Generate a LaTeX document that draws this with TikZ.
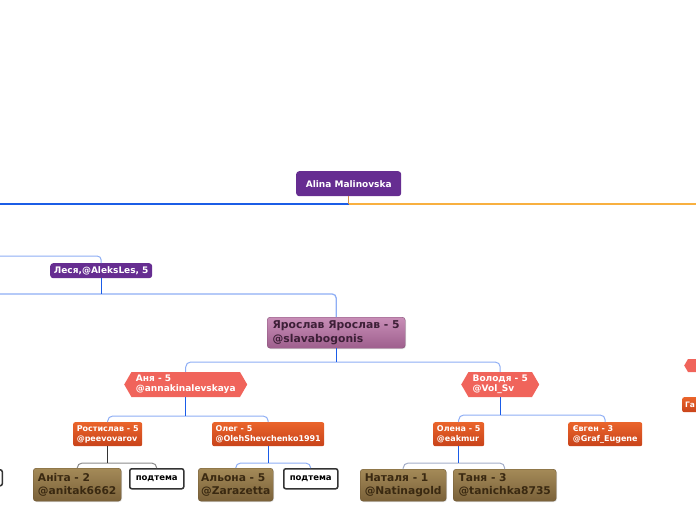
\documentclass[tikz,border=0pt]{standalone}
\usepackage{fontspec}
\setmainfont{DejaVu Sans}
\usetikzlibrary{shapes.symbols,shadows}
\definecolor{purp}{HTML}{662D91}
\definecolor{mauveT}{HTML}{C88EB7}
\definecolor{mauveB}{HTML}{9E5F8D}
\definecolor{mauveText}{HTML}{3D1F37}
\definecolor{coral}{HTML}{F0645B}
\definecolor{orT}{HTML}{EA642B}
\definecolor{orB}{HTML}{C8431A}
\definecolor{brT}{HTML}{A48A58}
\definecolor{brB}{HTML}{7A6139}
\definecolor{brText}{HTML}{3A2911}
\definecolor{lblue}{HTML}{8EAEF5}
\definecolor{dblue}{HTML}{1A5CE8}
\definecolor{topblue}{HTML}{1B5DE6}
\definecolor{toporange}{HTML}{F8B040}
\definecolor{stemorange}{HTML}{D4904A}
\definecolor{grayl}{HTML}{8A8A8A}
\definecolor{grayd}{HTML}{333333}
\definecolor{graybl}{HTML}{A3ADC8}
\begin{document}
\begin{tikzpicture}[x=1pt,y=-1pt,
  purplebox/.style={fill=purp, rounded corners=3pt, text=white, inner sep=0pt,
    font=\bfseries\fontsize{9}{10}\selectfont, align=center, anchor=north west},
  mauvebox/.style={top color=mauveT, bottom color=mauveB, draw=mauveB!85!black, line width=0.4pt,
    rounded corners=3pt, text=mauveText, inner sep=0pt,
    font=\bfseries\fontsize{10.8}{14}\selectfont, align=left, anchor=north west,
    drop shadow={shadow xshift=0.8pt, shadow yshift=-0.8pt, opacity=0.25}},
  hexbox/.style={shape=signal, signal to=west and east, signal pointer angle=120,
    fill=coral, text=white, inner sep=0pt,
    font=\bfseries\fontsize{9}{10}\selectfont, align=left, anchor=west},
  orbox/.style={top color=orT, bottom color=orB, rounded corners=2pt, text=white,
    inner sep=0pt, font=\bfseries\fontsize{8}{10}\selectfont,
    align=left, anchor=north west},
  brbox/.style={top color=brT, bottom color=brB, draw=brB!90!black, line width=0.4pt,
    rounded corners=3pt, text=brText, inner sep=0pt,
    font=\bfseries\fontsize{10.7}{13}\selectfont, align=left, anchor=north west,
    drop shadow={shadow xshift=0.8pt, shadow yshift=-0.8pt, opacity=0.25}},
  subbox/.style={fill=white, draw=grayd, line width=1.5pt, rounded corners=2pt,
    inner sep=0pt, font=\bfseries\fontsize{8.5}{10}\selectfont, text=black,
    minimum width=54pt, minimum height=20pt, anchor=north west},
  conn/.style={line width=1pt},
]
\useasboundingbox (0,0) rectangle (696,520);

% nodes
\node[purplebox, minimum width=105pt, minimum height=25pt] (alina) at (296,171) {Alina Malinovska};
\node[purplebox, minimum width=102pt, minimum height=15pt] (lesya) at (50,263) {Леся,@AleksLes, 5};
\node[mauvebox, minimum width=138pt, minimum height=31pt] (yar) at (267,317) {Ярослав Ярослав - 5\\@slavabogonis};
\node[hexbox, minimum width=123pt, minimum height=25pt] (anya) at (124,384.5) {Аня - 5\\@annakinalevskaya};
\node[hexbox, minimum width=78pt, minimum height=25pt] (vol) at (461,384.5) {Володя - 5\\@Vol\_Sv};
\node[orbox, minimum width=69pt, minimum height=24pt] (rost) at (73,422) {Ростислав - 5\\@peevovarov};
\node[orbox, minimum width=112pt, minimum height=24pt] (oleg) at (212,422) {Олег - 5\\@OlehShevchenko1991};
\node[orbox, minimum width=51pt, minimum height=24pt] (olena) at (433,422) {Олена - 5\\@eakmur};
\node[orbox, minimum width=74pt, minimum height=24pt] (evgen) at (568,422) {Євген - 3\\@Graf\_Eugene};
\node[brbox, minimum width=88pt, minimum height=33pt] (anita) at (33,468) {Аніта - 2\\@anitak6662};
\node[subbox] (pt1) at (129,468) {подтема};
\node[brbox, minimum width=75pt, minimum height=33pt] (alona) at (198,468) {Альона - 5\\@Zarazetta};
\node[subbox] (pt2) at (283,468) {подтема};
\node[brbox, minimum width=86pt, minimum height=32pt] (natalya) at (360,469) {Наталя - 1\\@Natinagold};
\node[brbox, minimum width=103pt, minimum height=32pt] (tanya) at (453,469) {Таня - 3\\@tanichka8735};
% partial nodes at the edges
\node[subbox, minimum height=16pt, anchor=north east] (ptleft) at (3,469) {};
\node[hexbox, minimum width=60pt, minimum height=13pt] (hexright) at (684,365.5) {};
\node[orbox, minimum height=15pt, text width=60pt, inner xsep=3pt, font=\bfseries\fontsize{7.5}{9}\selectfont] (gright) at (682,397) {Га};

% coordinates
\coordinate (jt) at (alina.south |- 0,204);
\coordinate (l0) at (-5,204);
\coordinate (r0) at (701,204);
\coordinate (l1) at (-5,256);
\coordinate (l2) at (-5,294);
\coordinate (b0) at (lesya.south |- 0,294);
\coordinate (b1) at (yar.south |- 0,362);
\coordinate (b2) at (anya.south |- 0,416);
\coordinate (b3) at (vol.south |- 0,415);
\coordinate (b4) at (rost.south |- 0,463);
\coordinate (b5) at (oleg.south |- 0,463);
\coordinate (b6) at (olena.south |- 0,463);

% connectors
\draw[topblue, line width=1.3pt] (jt) -- (l0);
\draw[toporange, line width=1.3pt] (jt) -- (r0);
\draw[stemorange, conn] (alina.south) -- (jt);

\draw[lblue, conn, rounded corners=4pt] (l1) -| (lesya.north);
\draw[lblue, line width=1.3pt, rounded corners=4pt] (l2) -- (b0) -| (yar.north);
\draw[dblue, conn] (lesya.south) -- (b0);

\draw[lblue, conn, rounded corners=5pt] (anya.north) |- (b1) -| (vol.north);
\draw[dblue, conn] (yar.south) -- (b1);

\draw[lblue, conn, rounded corners=5pt] (rost.north) |- (b2) -| (oleg.north);
\draw[dblue, conn] (anya.south) -- (b2);

\draw[lblue, conn, rounded corners=5pt] (olena.north) |- (b3) -| (evgen.north);
\draw[dblue, conn] (vol.south) -- (b3);

\draw[grayl, conn, rounded corners=5pt] (anita.north) |- (b4) -| (pt1.north);
\draw[grayd, conn] (rost.south) -- (b4);

\draw[lblue, conn, rounded corners=5pt] (alona.north) |- (b5) -| (pt2.north);
\draw[dblue, conn] (oleg.south) -- (b5);

\draw[graybl, conn, rounded corners=5pt] (natalya.north) |- (b6) -| (tanya.north);
\draw[dblue, conn] (olena.south) -- (b6);
\end{tikzpicture}
\end{document}
